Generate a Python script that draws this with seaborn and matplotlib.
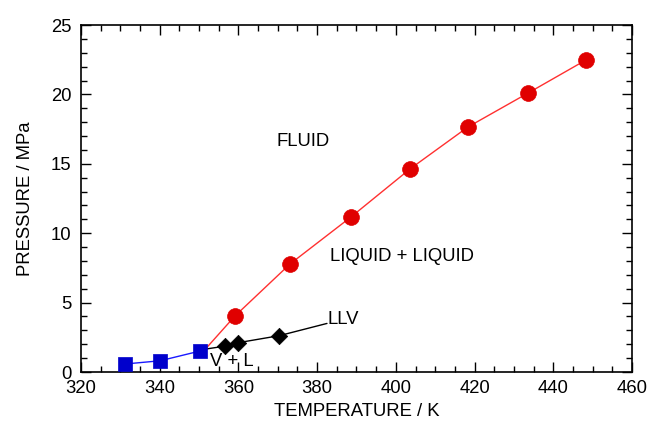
import matplotlib
matplotlib.use("Agg")
import matplotlib.pyplot as plt
import seaborn as sns
import pandas as pd
from matplotlib.ticker import MultipleLocator

# Phase-boundary data (temperature in K, pressure in MPa)
crit_T = 351.6
crit_P = 1.65

vl_T = [331.3, 340.1, 350.2]
vl_P = [0.58, 0.81, 1.51]

ll_T = [359.1, 373.1, 388.6, 403.6, 418.3, 433.6, 448.3]
ll_P = [4.03, 7.78, 11.17, 14.63, 17.65, 20.10, 22.48]

llv_T = [356.7, 359.9, 370.4]
llv_P = [1.87, 2.11, 2.62]
llv_end_T = 382.5
llv_end_P = 3.50

sns.set_theme(style="ticks")
plt.rcParams["font.family"] = ["Liberation Sans", "DejaVu Sans"]
plt.rcParams["text.color"] = "black"
plt.rcParams["axes.labelcolor"] = "black"
plt.rcParams["xtick.labelcolor"] = "black"
plt.rcParams["ytick.labelcolor"] = "black"

fig = plt.figure(figsize=(6.49, 4.24), dpi=100)
ax = fig.add_axes([0.1248, 0.1226, 0.8490, 0.8184])

# Curves through the measured points
vl_line = pd.DataFrame({"T": vl_T + [crit_T], "P": vl_P + [crit_P]})
ll_line = pd.DataFrame({"T": [crit_T] + ll_T, "P": [crit_P] + ll_P})
llv_line = pd.DataFrame({"T": [crit_T] + llv_T + [llv_end_T],
                         "P": [crit_P] + llv_P + [llv_end_P]})

sns.lineplot(data=vl_line, x="T", y="P", ax=ax, color="#1a1aff", lw=1.0, sort=False)
sns.lineplot(data=ll_line, x="T", y="P", ax=ax, color="#ff3030", lw=1.0, sort=False)
sns.lineplot(data=llv_line, x="T", y="P", ax=ax, color="black", lw=1.0, sort=False)

# Markers
sns.scatterplot(x=vl_T, y=vl_P, ax=ax, marker="s", s=110, color="#0000cc",
                edgecolor="#0000cc", linewidth=0.5, zorder=5)
sns.scatterplot(x=ll_T, y=ll_P, ax=ax, marker="o", s=130, color="#e00000",
                edgecolor="#e00000", linewidth=0.5, zorder=5)
sns.scatterplot(x=llv_T, y=llv_P, ax=ax, marker="D", s=70, color="black",
                edgecolor="black", linewidth=0.5, zorder=5)

# Region labels
fs = 13.3
ax.text(376.5, 16.6, "FLUID", fontsize=fs, ha="center", va="center")
ax.text(401.5, 8.3, "LIQUID + LIQUID", fontsize=fs, ha="center", va="center")
ax.text(382.6, 3.75, "LLV", fontsize=fs, ha="left", va="center")
ax.text(358.4, 0.74, "V + L", fontsize=fs, ha="center", va="center")

ax.set_xlim(320, 460)
ax.set_ylim(0, 25)
ax.xaxis.set_major_locator(MultipleLocator(20))
ax.xaxis.set_minor_locator(MultipleLocator(5))
ax.yaxis.set_major_locator(MultipleLocator(5))
ax.yaxis.set_minor_locator(MultipleLocator(1))
ax.tick_params(which="both", direction="in", top=True, right=True,
               labelsize=fs, color="black", width=1.0)
ax.tick_params(axis="x", which="major", pad=6)
ax.tick_params(axis="y", which="major", pad=7)
ax.tick_params(which="major", length=7)
ax.tick_params(which="minor", length=4)
for sp in ax.spines.values():
    sp.set_linewidth(1.2)
    sp.set_color("black")

ax.set_xlabel("TEMPERATURE / K", fontsize=fs, labelpad=4)
ax.set_ylabel("PRESSURE / MPa", fontsize=fs, labelpad=12)

fig.savefig("out.png", dpi=100)
